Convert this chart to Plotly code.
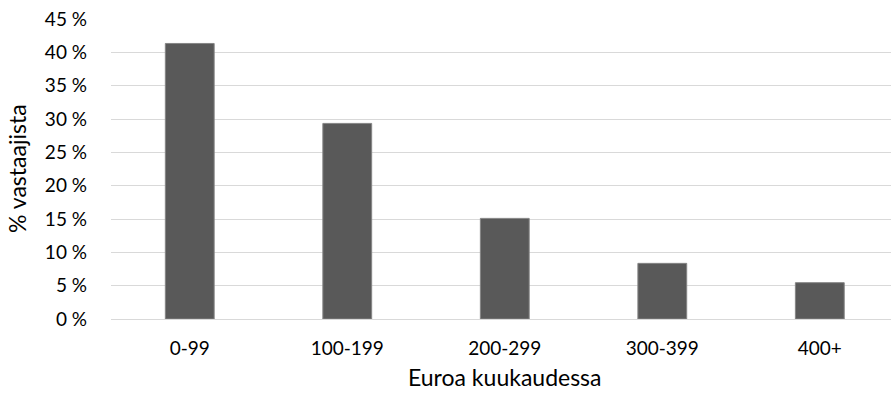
import plotly.graph_objects as go

categories = ["0-99", "100-199", "200-299", "300-399", "400+"]
values = [41.35, 29.35, 15.1, 8.35, 5.45]
y_ticks = [0, 5, 10, 15, 20, 25, 30, 35, 40, 45]
y_tick_labels = [f"{v} %" for v in y_ticks]
x_title = "Euroa kuukaudessa"
y_title = "% vastaajista"

FONT = "Lato, 'Open Sans', sans-serif"
FS = 19
TFS = 23

fig = go.Figure(go.Bar(
    x=categories, y=values,
    marker=dict(color="#595959", line=dict(color="#858585", width=1)),
    width=0.31,
))

fig.update_layout(
    width=891, height=394,
    margin=dict(l=111, r=0, t=19, b=75, autoexpand=False),
    paper_bgcolor="white", plot_bgcolor="white",
    font=dict(family=FONT, size=FS, color="#000000"),
    showlegend=False,
    annotations=[
        dict(text=x_title, xref="paper", yref="paper", x=0.505, y=0,
             xanchor="center", yanchor="middle", yshift=-58, showarrow=False,
             font=dict(size=TFS)),
        dict(text=y_title, xref="paper", yref="paper", x=0, y=0.5,
             xanchor="center", yanchor="middle", xshift=-94, textangle=-90,
             showarrow=False, font=dict(size=TFS)),
    ],
)
fig.update_xaxes(
    range=[-0.5, 4.452], automargin=False,
    showgrid=False, showline=False, zeroline=False,
    ticks="", ticklabelstandoff=16,
    tickfont=dict(size=FS),
)
fig.update_yaxes(
    range=[0, 45.02], tickvals=y_ticks, ticktext=y_tick_labels, automargin=False,
    showgrid=True, gridcolor="#d9d9d9", gridwidth=1.3,
    zeroline=True, zerolinecolor="#d9d9d9", zerolinewidth=1.3,
    showline=False, ticks="", ticklabelstandoff=23,
    tickfont=dict(size=FS),
)

fig.write_html("out.html", config={"displayModeBar": False},
               post_script="document.body.style.margin='0';")
